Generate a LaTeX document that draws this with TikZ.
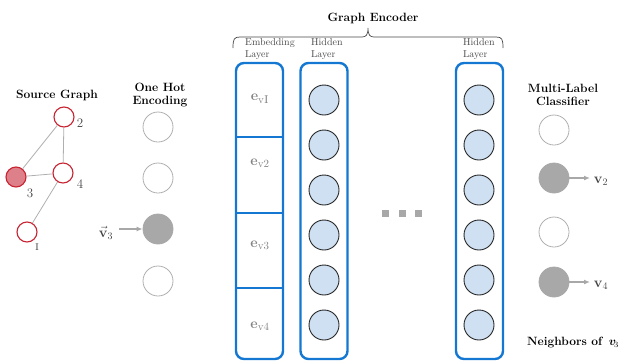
\documentclass[tikz,border=0pt]{standalone}
\usepackage{bm}
\usetikzlibrary{arrows.meta}
\definecolor{boxblue}{RGB}{20,120,210}
\definecolor{hidfill}{RGB}{207,224,242}
\definecolor{gnode}{RGB}{200,35,50}
\definecolor{gfill}{RGB}{222,128,138}
\definecolor{lgray}{RGB}{175,175,175}
\definecolor{mgray}{RGB}{168,168,168}
\definecolor{tgray}{RGB}{70,70,70}
\definecolor{egray}{RGB}{130,130,130}
\begin{document}
\begin{tikzpicture}[x=1pt,y=-1pt,
  title/.style={font=\fontsize{12}{16}\selectfont\bfseries, align=center},
  small/.style={font=\fontsize{10}{12}\selectfont, text=tgray, align=left, anchor=west, inner sep=0},
  gv/.style={circle, draw=gnode, line width=1.1pt, minimum size=20pt, inner sep=0, fill=white},
  gvf/.style={gv, fill=gfill},
  glabel/.style={font=\fontsize{13}{13}\selectfont, text=tgray, inner sep=0},
  onehot/.style={circle, draw=lgray, line width=0.8pt, minimum size=30pt, inner sep=0},
  onehotf/.style={onehot, draw=mgray, fill=mgray},
  hid/.style={circle, draw=black!85, line width=0.9pt, fill=hidfill, minimum size=30pt, inner sep=0},
  layerbox/.style={draw=boxblue, line width=2.4pt, rounded corners=8pt, minimum width=47pt, minimum height=296pt, inner sep=0},
  edgeline/.style={draw=lgray, line width=0.8pt},
  grayarrow/.style={draw=mgray, line width=1.2pt, -{Latex[length=6pt,width=5pt]}},
  elabel/.style={font=\fontsize{15}{15}\selectfont, text=egray, inner sep=0},
  vlabel/.style={font=\fontsize{14}{14}\selectfont, text=tgray, inner sep=0},
  dotsq/.style={fill=mgray, minimum size=7pt, inner sep=0}
]
\useasboundingbox (0,0) rectangle (624,362);

% Source graph
\node[title] (tsrc) at (57,95) {Source Graph};
\node[gv] (n2) at (64,117) {};
\node[gv] (n4) at (63,173) {};
\node[gvf] (n3) at (16,177) {};
\node[gv] (n1) at (27,232) {};
\draw[edgeline] (n2) -- (n3);
\draw[edgeline] (n2) -- (n4);
\draw[edgeline] (n3) -- (n4);
\draw[edgeline] (n4) -- (n1);
\node[glabel] (l2) at (80,123) {2};
\node[glabel] (l4) at (80,184) {4};
\node[glabel] (l3) at (30,193) {3};
\node[glabel] (l1) at (37,247) {\textsc{i}};

% One hot encoding
\node[title] (toh) at (160,95) {One Hot\\[-3pt]Encoding};
\node[onehot] (o1) at (158,127) {};
\node[onehot] (o2) at (158,178) {};
\node[onehotf] (o3) at (158,229) {};
\node[onehot] (o4) at (158,281) {};
\node[vlabel] (v3) at (106,233) {$\vec{\mathbf{v}}_{3}$};
\coordinate (a3) at (119,229);
\draw[grayarrow] (a3) -- (o3);

% Graph encoder
\node[title] (tge) at (373,18) {Graph Encoder};
\coordinate (b1) at (233,48);
\coordinate (b2) at (503,48);
\draw[draw=tgray, line width=0.7pt] (b1) .. controls (233,39) and (234,37) .. (240,37) -- (362,37) .. controls (366,37) and (368,35) .. (368,28)
  .. controls (368,35) and (370,37) .. (374,37) -- (496,37) .. controls (502,37) and (503,39) .. (b2);
\node[small] (le) at (245,49) {Embedding\\Layer};
\node[small] (lh1) at (311,49) {Hidden\\Layer};
\node[small] (lh2) at (463,49) {Hidden\\Layer};

% Embedding layer
\node[layerbox] (emb) at (259.5,211) {};
\coordinate (d1l) at (236,137); \coordinate (d1r) at (283,137);
\coordinate (d2l) at (236,213); \coordinate (d2r) at (283,213);
\coordinate (d3l) at (236,288); \coordinate (d3r) at (283,288);
\draw[draw=boxblue, line width=1.2pt] (d1l) -- (d1r) (d2l) -- (d2r) (d3l) -- (d3r);
\node[elabel] (e1) at (260,99) {$\mathbf{e}_{\mathrm{v}\textsc{i}}$};
\node[elabel] (e2) at (260,163) {$\mathbf{e}_{\mathrm{v}2}$};
\node[elabel] (e3) at (260,245) {$\mathbf{e}_{\mathrm{v}3}$};
\node[elabel] (e4) at (260,326) {$\mathbf{e}_{\mathrm{v}4}$};

% Hidden layers
\node[layerbox] (hb1) at (324,211) {};
\node[layerbox] (hb2) at (479.5,211) {};
\foreach \i/\y in {1/100,2/145,3/190,4/235,5/280,6/325} {
  \node[hid] (h1\i) at (324,\y) {};
  \node[hid] (h2\i) at (479,\y) {};
}

% dots
\node[dotsq] (dA) at (385,213) {};
\node[dotsq] (dB) at (402,213) {};
\node[dotsq] (dC) at (418,213) {};

% Multi-label classifier
\node[title] (tml) at (563,95) {Multi-Label\\[-3pt]Classifier};
\node[onehot] (c1) at (554,130) {};
\node[onehotf] (c2) at (554,178) {};
\node[onehot] (c3) at (554,232) {};
\node[onehotf] (c4) at (554,282) {};
\node[vlabel] (ov2) at (601,181) {$\mathbf{v}_{2}$};
\node[vlabel] (ov4) at (601,285) {$\mathbf{v}_{4}$};
\coordinate (t2) at (590,178);
\coordinate (t4) at (590,282);
\draw[grayarrow] (c2) -- (t2);
\draw[grayarrow] (c4) -- (t4);
\node[font=\fontsize{12}{12}\selectfont\bfseries, inner sep=0] (nb) at (573,343) {Neighbors of \,$\bm{v}_{\!3}$};
\end{tikzpicture}
\end{document}
